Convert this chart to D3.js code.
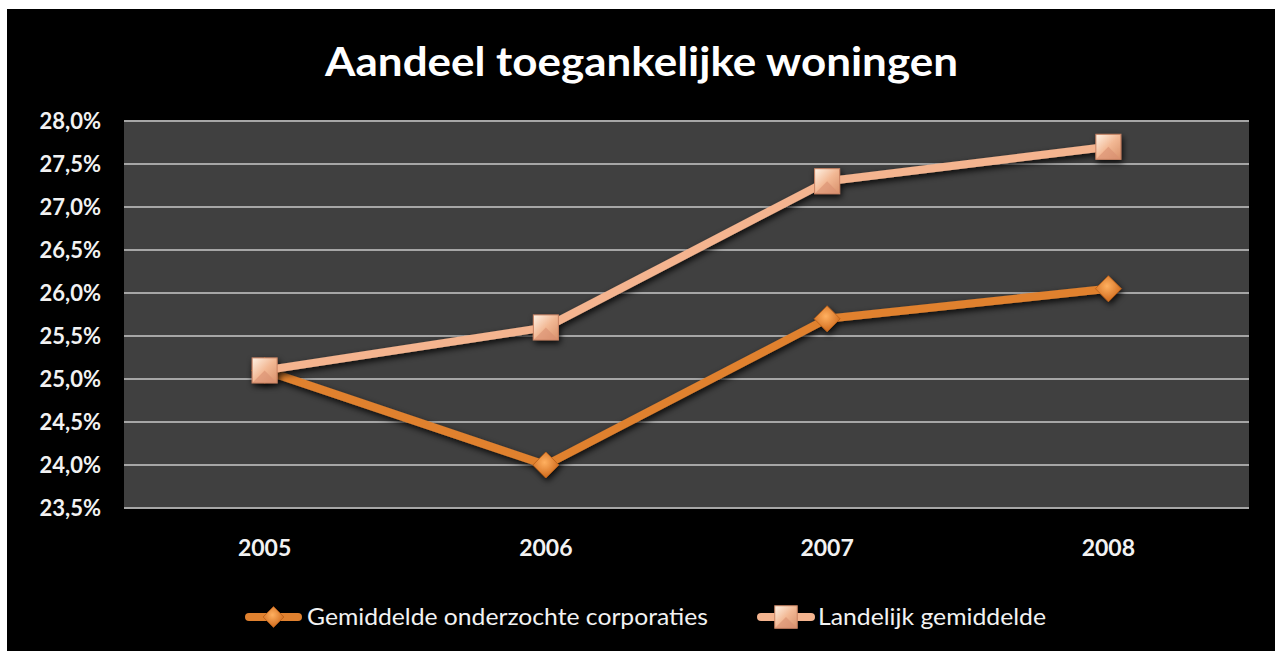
<!DOCTYPE html>
<html>
<head>
<meta charset="utf-8">
<script src="https://cdn.jsdelivr.net/npm/d3@7"></script>
<style>
  html, body { margin: 0; padding: 0; background: #ffffff; }
  svg { display: block; }
  text { font-family: Lato, "Open Sans", sans-serif; }
</style>
</head>
<body>
<svg id="chart" width="1275" height="651"></svg>
<script>
// Share of accessible dwellings, in percent
const years = ["2005", "2006", "2007", "2008"];
const corporaties = [25.1, 24.0, 25.7, 26.05];
const landelijk = [25.1, 25.6, 27.3, 27.7];
const yTicks = [23.5, 24.0, 24.5, 25.0, 25.5, 26.0, 26.5, 27.0, 27.5, 28.0];
const seriesNames = ["Gemiddelde onderzochte corporaties", "Landelijk gemiddelde"];
const title = "Aandeel toegankelijke woningen";

const svg = d3.select("#chart");
const W = 1275, H = 651;

// black chart panel
svg.append("rect").attr("x", 7).attr("y", 9).attr("width", W - 7).attr("height", H - 9).attr("fill", "#000");

const plot = { left: 124, right: 1249, top: 121, bottom: 508 };

const x = d3.scaleBand().domain(years).range([plot.left, plot.right]);
const y = d3.scaleLinear().domain([23.5, 28.0]).range([plot.bottom, plot.top]);

const defs = svg.append("defs");
const shadow = defs.append("filter").attr("id", "shadow")
  .attr("x", "-20%").attr("y", "-20%").attr("width", "140%").attr("height", "140%");
shadow.append("feDropShadow").attr("dx", 1.5).attr("dy", 3).attr("stdDeviation", 3)
  .attr("flood-color", "#000").attr("flood-opacity", 0.85);

// square marker bevel gradient
const sq = defs.append("linearGradient").attr("id", "sqGrad")
  .attr("x1", 0).attr("y1", 0).attr("x2", 1).attr("y2", 1);
sq.append("stop").attr("offset", "0%").attr("stop-color", "#fff3e6");
sq.append("stop").attr("offset", "50%").attr("stop-color", "#f2b894");
sq.append("stop").attr("offset", "100%").attr("stop-color", "#d8906a");
const dm = defs.append("radialGradient").attr("id", "dmGrad")
  .attr("cx", "45%").attr("cy", "40%").attr("r", "60%");
dm.append("stop").attr("offset", "0%").attr("stop-color", "#ffb060");
dm.append("stop").attr("offset", "100%").attr("stop-color", "#d06a1c");

// plot area
svg.append("rect").attr("x", plot.left).attr("y", plot.top)
  .attr("width", plot.right - plot.left).attr("height", plot.bottom - plot.top)
  .attr("fill", "#404040");

// gridlines
svg.append("g").selectAll("line").data(yTicks).join("line")
  .attr("x1", plot.left).attr("x2", plot.right)
  .attr("y1", d => y(d)).attr("y2", d => y(d))
  .attr("stroke", "#a6a6a6").attr("stroke-width", 2);

// y axis
const fmt = d => d3.format(".1f")(d).replace(".", ",") + "%";
const yAxis = svg.append("g").attr("transform", `translate(${plot.left},0)`)
  .call(d3.axisLeft(y).tickValues(yTicks).tickFormat(fmt).tickSize(0).tickPadding(23));
yAxis.select(".domain").remove();
yAxis.selectAll("text").attr("fill", "#f2f2f2").attr("font-size", 22).attr("font-weight", "bold")
  .attr("font-family", "Lato, sans-serif");

// x axis
const xAxis = svg.append("g").attr("transform", `translate(0,${plot.bottom})`)
  .call(d3.axisBottom(x).tickSize(0).tickPadding(32));
xAxis.select(".domain").remove();
xAxis.selectAll("text").attr("fill", "#f2f2f2").attr("font-size", 23).attr("font-weight", "bold")
  .attr("font-family", "Lato, sans-serif");

const cx = d => x(d) + x.bandwidth() / 2;
const line = d3.line().x(d => cx(d.year)).y(d => y(d.v));

const series = [
  { name: seriesNames[0], values: corporaties, color: "#e0812f", marker: "diamond" },
  { name: seriesNames[1], values: landelijk, color: "#f4b48f", marker: "square" }
];

function drawMarker(g, type, px, py, scale) {
  if (type === "square") {
    const s = 25 * scale;
    g.append("rect").attr("x", px - s / 2).attr("y", py - s / 2).attr("width", s).attr("height", s)
      .attr("fill", "url(#sqGrad)").attr("stroke", "#c98262").attr("stroke-width", 1);
    // bevel facet
    g.append("path").attr("d", `M${px - s / 2},${py + s / 2}L${px},${py}L${px + s / 2},${py + s / 2}Z`)
      .attr("fill", "#d98f72").attr("opacity", 0.6);
  } else {
    const r = 13 * scale;
    g.append("path").attr("d", `M${px},${py - r}L${px + r},${py}L${px},${py + r}L${px - r},${py}Z`)
      .attr("fill", "url(#dmGrad)").attr("stroke", "#b85e18").attr("stroke-width", 0.8);
  }
}

// series lines with markers
series.forEach(s => {
  const pts = years.map((yr, i) => ({ year: yr, v: s.values[i] }));
  const g = svg.append("g").attr("filter", "url(#shadow)");
  g.append("path").datum(pts).attr("d", line)
    .attr("fill", "none").attr("stroke", s.color).attr("stroke-width", 8)
    .attr("stroke-linejoin", "round");
  pts.forEach(p => drawMarker(g, s.marker, cx(p.year), y(p.v), 1));
});

// title
svg.append("text").attr("x", 641.5).attr("y", 76).attr("text-anchor", "middle")
  .attr("fill", "#fff").attr("font-size", 40).attr("font-weight", "bold")
  .attr("textLength", 633).attr("lengthAdjust", "spacingAndGlyphs")
  .attr("font-family", "Lato, sans-serif").text(title);

// legend
const legendY = 617;
const legendItems = [
  { s: series[0], x0: 245, x1: 302, tx: 307, tw: 401 },
  { s: series[1], x0: 757, x1: 815, tx: 818, tw: 228 }
];
legendItems.forEach(({ s, x0, x1, tx, tw }) => {
  const g = svg.append("g");
  g.append("line").attr("x1", x0 + 4).attr("x2", x1 - 4).attr("y1", legendY).attr("y2", legendY)
    .attr("stroke", s.color).attr("stroke-width", 8).attr("stroke-linecap", "round");
  drawMarker(g, s.marker, (x0 + x1) / 2, legendY, s.marker === "square" ? 0.9 : 0.8);
  g.append("text").attr("x", tx).attr("y", legendY + 8)
    .attr("fill", "#f2f2f2").attr("font-size", 23).attr("font-family", "Lato, sans-serif")
    .attr("textLength", tw).attr("lengthAdjust", "spacingAndGlyphs")
    .text(s.name);
});
</script>
</body>
</html>
